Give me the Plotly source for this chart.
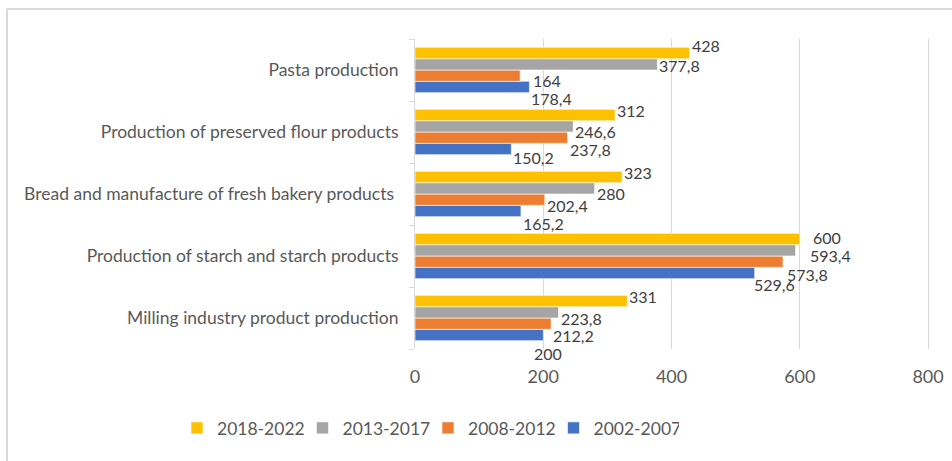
import plotly.graph_objects as go

# Categories listed bottom -> top (Plotly draws the first category at the bottom)
categories = [
    "Milling industry product production",
    "Production of starch and starch products",
    "Bread and manufacture of fresh bakery products\u00a0",
    "Production of preserved flour products",
    "Pasta production",
]
series_names = ["2002-2007", "2008-2012", "2013-2017", "2018-2022"]
v_2002_2007 = [200, 529.6, 165.2, 150.2, 178.4]
v_2008_2012 = [212.2, 573.8, 202.4, 237.8, 164]
v_2013_2017 = [223.8, 593.4, 280, 246.6, 377.8]
v_2018_2022 = [331, 600, 323, 312, 428]
x_ticks = [0, 200, 400, 600, 800]

series_values = [v_2002_2007, v_2008_2012, v_2013_2017, v_2018_2022]
colors = ["#4472C4", "#ED7D31", "#A5A5A5", "#FFC000"]

# Data-label placement in pixels: horizontal nudge from the bar end and
# vertical distance below the category centre (same order as categories)
label_dx = [
    [-11, -3, 0, 0, 0],
    [0, 2, 0, 0, 11],
    [0, 12, 0, 0, 0],
    [0, 11, 0, 0, 0],
]
label_dy = [
    [35, 28, 29, 25, 28],
    [17, 18, 11, 17, 10],
    [0, -1, -1, -1, -5],
    [-22, -19, -22, -22, -25],
]

FONT = "Lato"
GRID = "#d9d9d9"
W, H = 952, 461
X_MAX = 803                      # a little past 800 so the 800 gridline is kept
PX_PER_UNIT = 513 / 800
L, T, B = 415, 39, 112
R = W - L - round(X_MAX * PX_PER_UNIT)
PW, PH = W - L - R, H - T - B


def fmt(v):
    return f"{v:g}".replace(".", ",")


fig = go.Figure()
for name, vals, col in zip(series_names, series_values, colors):
    fig.add_trace(go.Bar(
        y=categories, x=vals, name=name, orientation="h",
        marker=dict(color=col, line=dict(color="white", width=0.6)),
    ))

annotations = []
for si, vals in enumerate(series_values):
    for ci, v in enumerate(vals):
        annotations.append(dict(
            x=v, y=categories[ci], xref="x", yref="y",
            text=fmt(v), showarrow=False,
            xanchor="left", yanchor="middle",
            xshift=label_dx[si][ci], yshift=-label_dy[si][ci],
            font=dict(family=FONT, size=16, color="#404040"),
        ))

# Chart frame (left and top edges of the outer border)
fx = (7 - L) / PW
fy = (H - B - 9) / PH
shapes = [
    dict(type="line", xref="paper", yref="paper",
         x0=fx, x1=fx, y0=-0.6, y1=fy, line=dict(color=GRID, width=2)),
    dict(type="line", xref="paper", yref="paper",
         x0=fx, x1=1.2, y0=fy, y1=fy, line=dict(color=GRID, width=2)),
]

fig.update_layout(
    width=W, height=H, autosize=False,
    margin=dict(l=L, r=R, t=T, b=B, autoexpand=False),
    paper_bgcolor="white", plot_bgcolor="white",
    barmode="group", bargap=0.27, bargroupgap=0,
    font=dict(family=FONT, color="#595959"),
    annotations=annotations, shapes=shapes,
    legend=dict(
        orientation="h", traceorder="reversed",
        xref="container", yref="container",
        x=177 / W, xanchor="left",
        y=1 - 428 / H, yanchor="middle",
        entrywidth=80.5, entrywidthmode="pixels",
        font=dict(family=FONT, size=17.5, color="#595959"),
        bgcolor="rgba(0,0,0,0)",
    ),
    xaxis=dict(
        range=[0, X_MAX], tickvals=x_ticks, ticktext=[str(t) for t in x_ticks],
        showgrid=True, gridcolor=GRID, gridwidth=1,
        zeroline=False, showline=False, ticks="", automargin=False,
        tickfont=dict(family=FONT, size=18, color="#595959"),
        ticklabelstandoff=15,
    ),
    yaxis=dict(
        type="category", categoryorder="array", categoryarray=categories,
        range=[-0.5, len(categories) - 0.5],
        tickson="boundaries", ticks="outside", ticklen=5, tickcolor=GRID,
        showline=True, linecolor=GRID, linewidth=1, showgrid=False,
        automargin=False,
        tickfont=dict(family=FONT, size=17.5, color="#595959"),
        ticklabelstandoff=12,
    ),
)

fig.write_html("out.html")
